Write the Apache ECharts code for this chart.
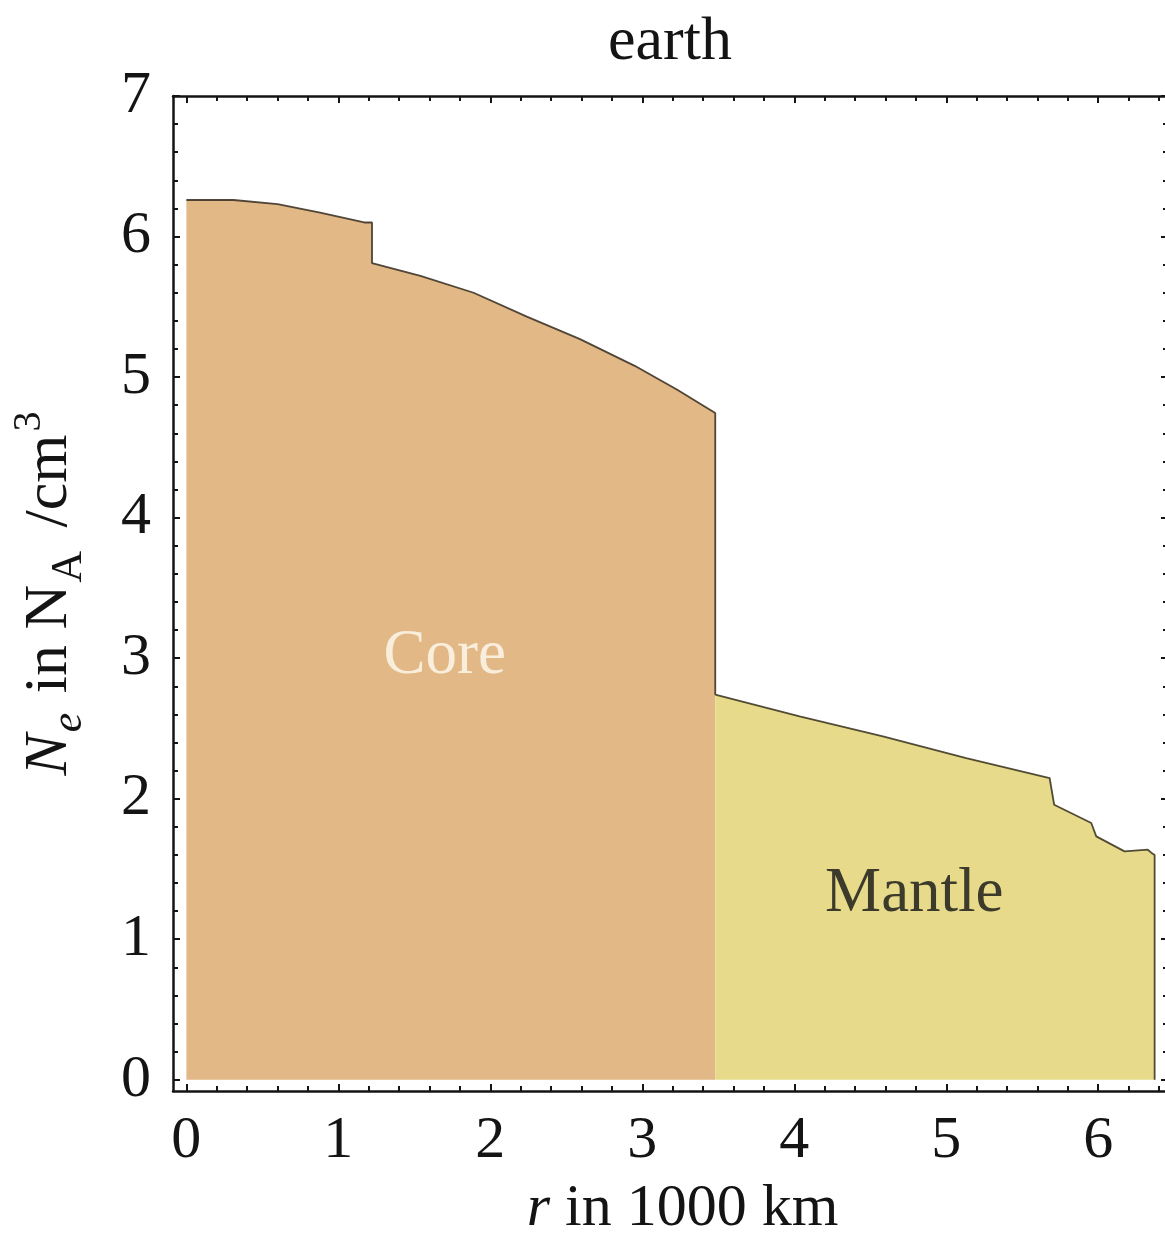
<!DOCTYPE html>
<html>
<head>
<meta charset="utf-8">
<script src="https://cdn.jsdelivr.net/npm/echarts@6/dist/echarts.min.js"></script>
<style>
  html, body { margin: 0; padding: 0; background: #ffffff; }
  #chart { width: 1165px; height: 1239px; }
</style>
</head>
<body>
<div id="chart"></div>
<script>
// Electron number density of the Earth vs. radius (r in 1000 km, N_e in N_A per cm^3)
const coreRadius  = [0.00, 0.31, 0.60, 0.88, 1.17, 1.2215, 1.2215, 1.54, 1.89, 2.24, 2.59, 2.95, 3.23, 3.48, 3.48];
const coreDensity = [6.26, 6.26, 6.23, 6.17, 6.10, 6.10,   5.81,   5.72, 5.60, 5.43, 5.27, 5.08, 4.91, 4.745, 2.74];

const mantleRadius  = [3.48, 4.035, 4.583, 5.131, 5.68, 5.71, 5.954, 5.987, 6.173, 6.326, 6.349, 6.371, 6.371];
const mantleDensity = [2.74, 2.586, 2.443, 2.289, 2.147, 1.957, 1.827, 1.732, 1.625, 1.637, 1.616, 1.60, 0.0];

// Tick labels
const xTickLabels = [0, 1, 2, 3, 4, 5, 6];
const yTickLabels = [0, 1, 2, 3, 4, 5, 6, 7];

// Region annotations (data coordinates)
const regionNames = ['Core', 'Mantle'];
const regionR = [1.70, 4.79];
const regionN = [3.01, 1.32];

const X_MIN = -0.088, X_MAX = 6.459;
const Y_MIN = -0.08,  Y_MAX = 7.0;

function minorTicks(lo, hi, step) {
  const out = [];
  for (let i = Math.round(lo / step); i * step <= hi + 1e-9; i++) {
    const v = +(i * step).toFixed(4);
    if (Math.abs(v - Math.round(v)) > 1e-6) out.push(v);
  }
  return out;
}
const xMinor = minorTicks(0, 6.4, 0.2);
const yMinor = minorTicks(0, 7.0, 0.2);

const SERIF = '"Liberation Serif", "DejaVu Serif", serif';
const INK = '#141414';
const FRAME = { show: true, onZero: false, lineStyle: { color: INK, width: 2.5 } };
const NO_LINE = { show: false, onZero: false };

function pairs(xs, ys) { return xs.map((x, i) => [x, ys[i]]); }

function xAxisDef(position, showLine, ticks, len, labels) {
  return {
    type: 'value', position: position, min: X_MIN, max: X_MAX, gridIndex: 0,
    axisLine: showLine ? FRAME : NO_LINE,
    splitLine: { show: false },
    axisTick: { show: true, inside: true, length: len, customValues: ticks,
                lineStyle: { color: INK, width: 2 } },
    axisLabel: labels
      ? { show: true, customValues: labels, margin: 20, color: INK,
          fontFamily: SERIF, fontSize: 60 }
      : { show: false }
  };
}
function yAxisDef(position, showLine, ticks, len, labels) {
  return {
    type: 'value', position: position, min: Y_MIN, max: Y_MAX, gridIndex: 0,
    axisLine: showLine ? FRAME : NO_LINE,
    splitLine: { show: false },
    axisTick: { show: true, inside: true, length: len, customValues: ticks,
                lineStyle: { color: INK, width: 2 } },
    axisLabel: labels
      ? { show: true, customValues: labels, margin: 22, color: INK,
          fontFamily: SERIF, fontSize: 60 }
      : { show: false }
  };
}

const xBottom = xAxisDef('bottom', true, xTickLabels, 7, xTickLabels);
xBottom.name = '{it|r}{n| in 1000 km}';
xBottom.nameLocation = 'middle';
xBottom.nameGap = 88;
xBottom.nameTextStyle = {
  color: INK, fontFamily: SERIF, fontSize: 60, padding: [0, 0, 0, 24],
  rich: {
    it: { fontStyle: 'italic', fontFamily: SERIF, fontSize: 60, color: INK },
    n:  { fontFamily: SERIF, fontSize: 60, color: INK }
  }
};

const yLeft = yAxisDef('left', true, yTickLabels, 7, yTickLabels);
yLeft.name = '{it|N}{sub|e}{n| in N}{subr|A}{n| /cm}{sup|3}';
yLeft.nameLocation = 'middle';
yLeft.nameGap = 82;
yLeft.nameTextStyle = {
  color: INK, fontFamily: SERIF, fontSize: 62,
  rich: {
    it:   { fontStyle: 'italic', fontFamily: SERIF, fontSize: 62, lineHeight: 82, color: INK },
    n:    { fontFamily: SERIF, fontSize: 62, lineHeight: 82, color: INK },
    sub:  { fontStyle: 'italic', fontFamily: SERIF, fontSize: 44, lineHeight: 60, verticalAlign: 'bottom',
            padding: [0, 4, 0, 2], color: INK },
    subr: { fontFamily: SERIF, fontSize: 44, lineHeight: 60, verticalAlign: 'bottom',
            padding: [0, 8, 0, 2], color: INK },
    sup:  { fontFamily: SERIF, fontSize: 40, lineHeight: 24, verticalAlign: 'top',
            padding: [0, 0, 0, 3], color: INK }
  }
};

const chart = echarts.init(document.getElementById('chart'), null, { renderer: 'canvas' });

const option = {
  animation: false,
  backgroundColor: '#ffffff',
  grid: { left: 173, top: 96, width: 995, height: 995, containLabel: false, outerBoundsMode: 'none' },
  xAxis: [
    xBottom,
    xAxisDef('bottom', false, xMinor, 5, null),
    xAxisDef('top', true, xTickLabels, 7, null),
    xAxisDef('top', false, xMinor, 5, null)
  ],
  yAxis: [
    yLeft,
    yAxisDef('left', false, yMinor, 5, null),
    yAxisDef('right', true, yTickLabels, 7, null),
    yAxisDef('right', false, yMinor, 5, null)
  ],
  graphic: [{
    type: 'text', x: 670, y: 12,
    style: { text: 'earth', fill: INK, font: '62px ' + SERIF, align: 'center', verticalAlign: 'top' }
  }],
  series: [
    {
      name: 'Core', type: 'line', xAxisIndex: 0, yAxisIndex: 0,
      data: pairs(coreRadius, coreDensity),
      showSymbol: false, symbol: 'none', smooth: false,
      lineStyle: { color: 'rgba(62,52,38,0.9)', width: 1.8 },
      areaStyle: { color: '#E2B887', opacity: 1, origin: 0 },
      z: 2
    },
    {
      name: 'Mantle', type: 'line', xAxisIndex: 0, yAxisIndex: 0,
      data: pairs(mantleRadius, mantleDensity),
      showSymbol: false, symbol: 'none', smooth: false,
      lineStyle: { color: 'rgba(62,58,36,0.9)', width: 1.8 },
      areaStyle: { color: '#E7DB8B', opacity: 1, origin: 0 },
      z: 2
    },
    {
      name: 'regions', type: 'scatter', xAxisIndex: 0, yAxisIndex: 0,
      symbolSize: 1, itemStyle: { color: 'rgba(0,0,0,0)' },
      data: regionNames.map((n, i) => ({ name: n, value: [regionR[i], regionN[i]] })),
      label: {
        show: true, position: 'inside', formatter: p => p.name,
        fontFamily: SERIF, fontSize: 63, color: '#111111'
      },
      z: 5, silent: true
    }
  ]
};
// Label colours per region
option.series[2].data[0].label = { color: '#FFFBF0' };
option.series[2].data[1].label = { color: '#111111' };

chart.setOption(option);
</script>
</body>
</html>
